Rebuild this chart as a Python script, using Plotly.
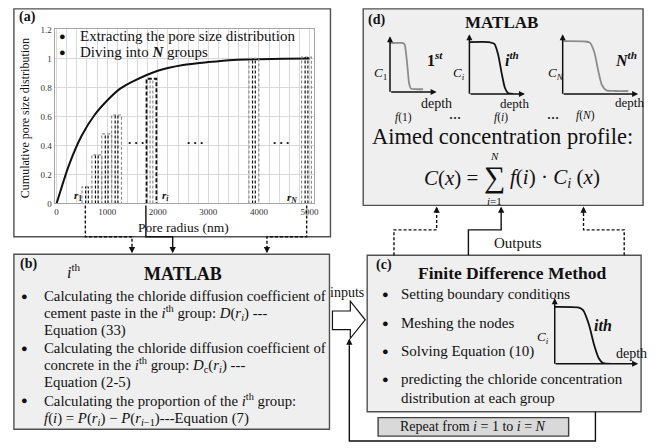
import plotly.graph_objects as go

# ---------------- data ----------------
# cumulative pore size distribution (panel a)
pore_radius = [0, 250, 500, 750, 1000, 1250, 1500, 2000, 2500, 3000, 3500, 4000, 4500, 5000]
cumulative = [0, 0.27, 0.47, 0.61, 0.71, 0.79, 0.84, 0.915, 0.955, 0.975, 0.99, 0.995, 0.998, 1.0]
x_ticks = [0, 1000, 2000, 3000, 4000, 5000]
y_ticks = [0, 0.2, 0.4, 0.6, 0.8, 1.0, 1.2]

# grouped bars (N groups)
group_center = [600, 795, 990, 1185, 1875, 3900, 4940]
group_height = [0.115, 0.335, 0.48, 0.61, 0.86, 1.0, 1.01]
group_width = 195

# illustrative concentration profiles (depth vs C, normalised)
prof1_depth = [0, 0.25, 0.31, 0.35, 0.38, 0.41, 0.45, 0.55, 0.71]
prof1_conc = [0.88, 0.88, 0.86, 0.65, 0.40, 0.15, 0.06, 0.05, 0.05]
profi_depth = [0, 0.35, 0.45, 0.52, 0.58, 0.64, 0.70, 0.79]
profi_conc = [0.87, 0.87, 0.84, 0.65, 0.35, 0.10, 0.01, 0.0]
profN_depth = [0, 0.30, 0.36, 0.42, 0.47, 0.52, 0.58, 0.70, 0.87]
profN_conc = [0.885, 0.88, 0.86, 0.70, 0.40, 0.15, 0.06, 0.05, 0.05]
profc_depth = [0, 0.28, 0.34, 0.41, 0.47, 0.53, 0.58, 0.70]
profc_conc = [0.87, 0.86, 0.82, 0.60, 0.30, 0.08, 0.01, 0.0]

# ---------------- helpers ----------------
W, H = 656, 448
SERIF = "Liberation Serif"


def X(px):
    return px / W


def Y(py):
    return 1 - py / H


fig = go.Figure()
ann = []
shapes = []


def text(px, py, s, size=14, anchor="left", color="#111111", vanchor="middle", angle=0):
    ann.append(dict(x=X(px), y=Y(py), xref="paper", yref="paper", text=s, showarrow=False,
                    xanchor=anchor, yanchor=vanchor, textangle=angle,
                    font=dict(family=SERIF, size=size, color=color)))


def rect(x0, y0, x1, y1, fill="rgba(0,0,0,0)", line="#505050", width=1.2, layer="below"):
    shapes.append(dict(type="rect", xref="paper", yref="paper", x0=X(x0), x1=X(x1), y0=Y(y1), y1=Y(y0),
                       fillcolor=fill, line=dict(color=line, width=width), layer=layer))


def poly(points, dash="solid", color="#111111", width=1.4):
    path = "M " + " L ".join(f"{X(a):.5f},{Y(b):.5f}" for a, b in points)
    shapes.append(dict(type="path", xref="paper", yref="paper", path=path,
                       line=dict(color=color, width=width, dash=dash), layer="above"))


def arrow(px, py, dx, dy, color="#111111", width=1.4, size=0.9):
    # tip at (px,py); tail offset (dx,dy) pixels from tip
    ann.append(dict(x=X(px), y=Y(py), xref="paper", yref="paper", ax=dx, ay=dy, text="",
                    showarrow=True, arrowhead=2, arrowsize=size, arrowwidth=width, arrowcolor=color))


# ---------------- panel (a) ----------------
fig.add_trace(go.Scatter(x=pore_radius, y=cumulative, mode="lines",
                         line=dict(color="#111111", width=2, shape="spline", smoothing=0.8),
                         showlegend=False, hoverinfo="skip", xaxis="x", yaxis="y"))

for i, (c, h) in enumerate(zip(group_center, group_height)):
    l, r = c - group_width / 2, c + group_width / 2
    outer_col = "#111111" if i == 4 else "#8c8c8c"
    inner_col = "#8c8c8c" if i == 4 else "#111111"
    fig.add_trace(go.Scatter(x=[l, l, r, r], y=[0, h, h, 0], mode="lines",
                             line=dict(color=outer_col, width=1.8 if i == 4 else 1.2,
                                       dash="4px,2px" if i == 4 else "3px,2px"),
                             showlegend=False, hoverinfo="skip", xaxis="x", yaxis="y"))
    for xx in (l + group_width * 0.36, r - group_width * 0.36):
        fig.add_trace(go.Scatter(x=[xx, xx], y=[0, h], mode="lines",
                                 line=dict(color=inner_col, width=1.2, dash="3px,2px"),
                                 showlegend=False, hoverinfo="skip", xaxis="x", yaxis="y"))

rect(14, 4, 333, 237, fill="white", line="#505050", width=1.4)
text(17, 12, "<b>(a)</b>", size=14)
text(26, 116, "Cumulative pore size distribution", size=12, anchor="center", angle=-90)
text(185, 228, "Pore radius (nm)", size=13.5, anchor="center")
text(63, 32, "●", size=11, anchor="center")
text(63, 48, "●", size=11, anchor="center")
text(79, 32, "Extracting the pore size distribution", size=15)
text(79, 48, "Diving into <b><i>N</i></b> groups", size=15)
text(79, 195, "<b><i>r</i><sub>1</sub></b>", size=11, anchor="center")
text(167, 195, "<b><i>r<sub>i</sub></i></b>", size=11, anchor="center")
text(294, 197, "<b><i>r<sub>N</sub></i></b>", size=11, anchor="center")
for dx in (137, 196, 283):
    text(dx, 138, "<b>. . .</b>", size=13, anchor="center")

# connectors a -> b
poly([(86, 205), (86, 237), (133, 237), (133, 248)], dash="3px,2px")
arrow(133, 254, 0, -8)
poly([(147, 205), (147, 237), (174, 237), (174, 248)])
arrow(174, 254, 0, -8)
poly([(309, 205), (309, 237), (269, 237), (269, 248)], dash="3px,2px")
arrow(269, 254, 0, -8)

# ---------------- panel (b) ----------------
rect(14, 255, 332, 434, fill="#efefef", line="#505050", width=1.4)
text(18, 265, "<b>(b)</b>", size=14)
text(66, 272, "<i>i</i><sup>th</sup>", size=16)
text(184, 275, "<b>MATLAB</b>", size=18, anchor="center")
b_lines = [
    (298, True, "Calculating the chloride diffusion coefficient of"),
    (315, False, "cement paste in the <i>i</i><sup>th</sup> group: <i>D</i>(<i>r<sub>i</sub></i>) ---"),
    (333, False, "Equation (33)"),
    (351, True, "Calculating the chloride diffusion coefficient of"),
    (368, False, "concrete in the <i>i</i><sup>th</sup> group: <i>D</i><sub>c</sub>(<i>r<sub>i</sub></i>) ---"),
    (386, False, "Equation (2-5)"),
    (404, True, "Calculating the proportion of the <i>i</i><sup>th</sup> group:"),
    (423, False, "<i>f</i>(<i>i</i>) = <i>P</i>(<i>r<sub>i</sub></i>) − <i>P</i>(<i>r<sub>i</sub></i><sub>−1</sub>)---Equation (7)"),
]
for yy, bullet, s in b_lines:
    if bullet:
        text(25, yy, "●", size=11, anchor="center")
    text(42, yy, s, size=14.8)

# ---------------- inputs arrow ----------------
text(350, 294, "inputs", size=14, anchor="center")
shapes.append(dict(type="path", xref="paper", yref="paper",
                   path="M " + " L ".join(f"{X(a):.5f},{Y(b):.5f}" for a, b in
                                          [(335, 313), (353, 313), (353, 303), (368, 322), (353, 341), (353, 332), (335, 332)]) + " Z",
                   fillcolor="white", line=dict(color="#111111", width=1.2), layer="above"))
poly([(600, 416), (600, 446), (352, 446), (352, 348)])
arrow(352, 341, 0, 8)

# ---------------- panel (c) ----------------
rect(370, 256, 646, 416, fill="#efefef", line="#505050", width=1.4)
text(377, 266, "<b>(c)</b>", size=14)
text(516, 274, "<b>Finite Difference Method</b>", size=17.5, anchor="center")
c_lines = [
    (296, True, "Setting boundary conditions"),
    (325, True, "Meshing the nodes"),
    (354, True, "Solving Equation (10)"),
    (383, True, "predicting the chloride concentration"),
    (402, False, "distribution at each group"),
]
for yy, bullet, s in c_lines:
    if bullet:
        text(388, yy, "●", size=11, anchor="center")
    text(402, yy, s, size=15)

rect(381, 422, 573, 441, fill="#d9d9d9", line="#404040", width=1.4)
text(477, 431.5, "Repeat from <i>i</i> = 1 to <i>i</i> = <i>N</i>", size=14, anchor="center")

# ---------------- panel (d) ----------------
rect(366, 4, 648, 205, fill="#efefef", line="#505050", width=1.4)
text(369, 15, "<b>(d)</b>", size=14)
text(505, 18, "<b>MATLAB</b>", size=17, anchor="center")
text(506, 135, "Aimed concentration profile:", size=22.5, anchor="center")
text(484, 177, "<i>C</i>(<i>x</i>) =", size=21, anchor="right")
text(498, 176, "∑", size=30, anchor="center")
text(498, 154, "<i>N</i>", size=11, anchor="center")
text(498, 200, "<i>i</i>=1", size=11, anchor="center")
text(512, 177, "<i>f</i>(<i>i</i>) · <i>C<sub>i</sub></i> (<i>x</i>)", size=21, anchor="left")

# outputs connectors c -> d
poly([(397, 256), (397, 230), (440, 230), (440, 212)], dash="3px,2px")
arrow(440, 206, 0, 8)
poly([(472, 256), (472, 230), (505, 230), (505, 212)])
arrow(505, 206, 0, 8)
poly([(629, 256), (629, 230), (588, 230), (588, 212)], dash="3px,2px")
arrow(588, 206, 0, 8)
text(522, 243, "Outputs", size=15, anchor="center")

# ---------------- mini profile plots ----------------
minis = [
    # (axis id, x0, x1, ytop, ybottom, depth, conc, color)
    (2, 393, 440, 32, 89, prof1_depth, prof1_conc, "#8c8c8c"),
    (3, 473, 529, 30, 91, profi_depth, profi_conc, "#111111"),
    (4, 567, 643, 30, 91, profN_depth, profN_conc, "#8c8c8c"),
    (5, 559, 643, 300, 367, profc_depth, profc_conc, "#111111"),
]
layout_axes = {}
for n, x0, x1, yt, yb, dd, cc, col in minis:
    fig.add_trace(go.Scatter(x=dd, y=cc, mode="lines", xaxis=f"x{n}", yaxis=f"y{n}",
                             line=dict(color=col, width=1.8, shape="spline", smoothing=0.6),
                             showlegend=False, hoverinfo="skip"))
    layout_axes[f"xaxis{n}"] = dict(domain=[X(x0), X(x1)], range=[0, 1], visible=False, anchor=f"y{n}")
    layout_axes[f"yaxis{n}"] = dict(domain=[Y(yb), Y(yt)], range=[0, 1], visible=False, anchor=f"x{n}")
    # axes drawn as arrows
    arrow(x0, yt, 0, yb - yt, width=1.5, size=0.8)
    arrow(x1, yb, -(x1 - x0), 0, width=1.5, size=0.8)

text(383, 70, "<i>C</i><sub>1</sub>", size=13, anchor="center")
text(438, 55, "<b>1<sup><i>st</i></sup></b>", size=16, anchor="center")
text(440, 101, "depth", size=14, anchor="center")
text(407, 115, "<i>f</i>(1)", size=11.5, anchor="center")
text(458, 112, "<b>…</b>", size=12, anchor="center")
text(463, 70, "<i>C<sub>i</sub></i>", size=13, anchor="center")
text(516, 55, "<b><i>i<sup>th</sup></i></b>", size=16, anchor="center")
text(518, 101, "depth", size=13, anchor="center")
text(505, 115, "<i>f</i>(<i>i</i>)", size=11.5, anchor="center")
text(557, 112, "<b>…</b>", size=12, anchor="center")
text(560, 70, "<i>C<sub>N</sub></i>", size=13, anchor="center")
text(631, 55, "<b><i>N<sup>th</sup></i></b>", size=16, anchor="center")
text(634, 100, "depth", size=13, anchor="center")
text(590, 113, "<i>f</i>(<i>N</i>)", size=11.5, anchor="center")

text(547, 340, "<i>C<sub>i</sub></i>", size=13, anchor="center")
text(608, 328, "<b><i>ith</i></b>", size=16, anchor="center")
text(636, 356, "depth", size=14, anchor="center")

# ---------------- layout ----------------
axis_font = dict(family=SERIF, size=9, color="#333333")
fig.update_layout(
    width=W, height=H, margin=dict(l=0, r=0, t=0, b=0),
    paper_bgcolor="white", plot_bgcolor="rgba(0,0,0,0)",
    showlegend=False,
    xaxis=dict(domain=[X(55), X(316)], range=[-40, 5080], tickvals=x_ticks, ticks="",
               showgrid=True, gridcolor="#d9d9d9", gridwidth=1,
               minor=dict(dtick=200, tick0=0, showgrid=True, gridcolor="#d9d9d9", gridwidth=1),
               showline=True, mirror=True, linecolor="#a6a6a6", linewidth=1, zeroline=False,
               tickfont=axis_font, anchor="y"),
    yaxis=dict(domain=[Y(203), Y(25)], range=[0, 1.2], tickvals=y_ticks, ticks="",
               showgrid=True, gridcolor="#d9d9d9", gridwidth=1,
               showline=True, mirror=True, linecolor="#a6a6a6", linewidth=1, zeroline=False,
               tickfont=axis_font, anchor="x"),
    annotations=ann, shapes=shapes,
    **layout_axes,
)

fig.write_html("out.html", config={"displayModeBar": False},
               post_script="document.body.style.margin='0px';")
